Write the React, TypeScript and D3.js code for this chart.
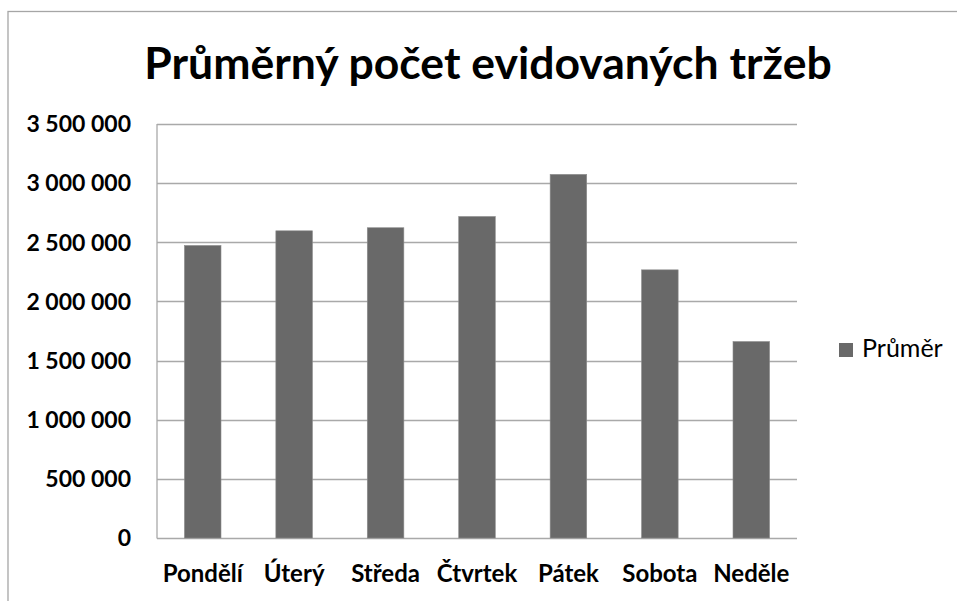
import React from 'react'
import * as d3 from 'd3'

const WIDTH = 957
const HEIGHT = 601

const TITLE = 'Průměrný počet evidovaných tržeb'
const SERIES_NAME = 'Průměr'

const DAYS = ['Pondělí', 'Úterý', 'Středa', 'Čtvrtek', 'Pátek', 'Sobota', 'Neděle']
const AVERAGES = [2473000, 2597000, 2623000, 2718000, 3074000, 2267000, 1661000]
const Y_TICKS = [0, 500000, 1000000, 1500000, 2000000, 2500000, 3000000, 3500000]

const MARGIN = { left: 157, right: 797, top: 124, bottom: 538 }
const BAR_COLOR = '#696969'
const GRID_COLOR = '#a9a9a9'
const FONT = 'Lato, "Open Sans", sans-serif'

// 3 500 000 style: groups separated by a space
const fmt = (v: number) => d3.format(',')(v).replace(/,/g, ' ')

export default function App() {
  const x = d3.scaleBand<string>()
    .domain(DAYS)
    .range([MARGIN.left, MARGIN.right])
    .paddingInner(0.6)
    .paddingOuter(0.3)

  const y = d3.scaleLinear()
    .domain([0, 3500000])
    .range([MARGIN.bottom, MARGIN.top])

  return (
    <div style={{ position: 'absolute', left: 0, top: 0 }}>
      <svg width={WIDTH} height={HEIGHT} style={{ display: 'block', fontFamily: FONT }}>
        <rect x={0} y={0} width={WIDTH} height={HEIGHT} fill="#fff" />
        {/* chart frame, runs off the right and bottom edges */}
        <rect x={8} y={11.5} width={WIDTH + 10} height={HEIGHT + 10} fill="none" stroke="#a6a6a6" strokeWidth={1.3} />

        <text x={488} y={79} textAnchor="middle" fontSize={44.5} fontWeight="bold" fill="#000">
          {TITLE}
        </text>

        {/* grid */}
        <g>
          {Y_TICKS.map((t) => (
            <line key={t}
              x1={MARGIN.left} x2={MARGIN.right}
              y1={Math.round(y(t)) + 0.5} y2={Math.round(y(t)) + 0.5}
              stroke={GRID_COLOR} strokeWidth={1.3} />
          ))}
          <line x1={MARGIN.left} x2={MARGIN.left} y1={MARGIN.top} y2={MARGIN.bottom + 0.5}
            stroke={GRID_COLOR} strokeWidth={1.3} />
        </g>

        {/* y labels */}
        <g>
          {Y_TICKS.map((t) => (
            <text key={t} x={131} y={y(t)} dy="0.36em" textAnchor="end"
              fontSize={23} fontWeight="bold" fill="#000">
              {fmt(t)}
            </text>
          ))}
        </g>

        {/* bars */}
        <g>
          {DAYS.map((d, i) => (
            <rect key={d}
              x={x(d)}
              y={y(AVERAGES[i])}
              width={x.bandwidth()}
              height={y(0) - y(AVERAGES[i])}
              fill={BAR_COLOR}
              stroke="#8c8c8c" strokeWidth={0.6} />
          ))}
        </g>

        {/* x labels */}
        <g>
          {DAYS.map((d) => (
            <text key={d} x={(x(d) as number) + x.bandwidth() / 2} y={582}
              textAnchor="middle" fontSize={24} fontWeight="bold" fill="#000">
              {d}
            </text>
          ))}
        </g>

        {/* legend */}
        <g>
          <rect x={839} y={343} width={14} height={14} fill={BAR_COLOR} />
          <text x={862} y={357} fontSize={25} fill="#000">{SERIES_NAME}</text>
        </g>
      </svg>
    </div>
  )
}
